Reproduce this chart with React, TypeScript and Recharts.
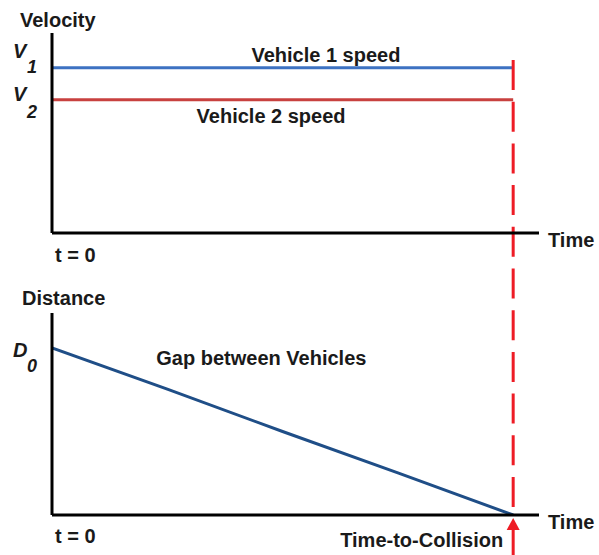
import React from "react";
import { LineChart, Line, XAxis, YAxis, ReferenceLine, ReferenceDot } from "recharts";

const FONT = '"Liberation Sans", Arial, sans-serif';
const INK = "#1a1a1a";
const RED = "#ee1c25";

// time axis (arbitrary units), collision happens at T_COLLIDE
const T_MAX = 10.56;
const T_COLLIDE = 10;
const V_MAX = 30;
const D_MAX = 60;

const speedTimes = [0, 10];
const vehicle1Speed = [24.8, 24.8];
const vehicle2Speed = [20, 20];

const gapTimes = [0, 2.5, 5, 7.5, 10];
const gapDistance = [49.6, 37.4, 24.8, 12.5, 0];

const velocityTicks = [24.8, 20];
const velocitySubs = ["1", "2"];
const distanceTicks = [49.6];
const distanceSubs = ["0"];

const speedData = speedTimes.map((t, i) => ({ t, v1: vehicle1Speed[i], v2: vehicle2Speed[i] }));
const gapData = gapTimes.map((t, i) => ({ t, d: gapDistance[i] }));

const textStyle = { fontFamily: FONT, fontWeight: 700, fontSize: 20, fill: INK };

// letter + subscript tick, e.g. V1
const subTick = (letter: string, ticks: number[], subs: string[], shifts: number[][]) => (p: any) => {
  const i = ticks.indexOf(p.payload.value);
  const [dy, subDy] = shifts[i] || [0, 15];
  return (
    <g>
      <text x={13} y={p.y + dy} {...textStyle} fontStyle="italic">{letter}</text>
      <text x={27} y={p.y + subDy} {...textStyle} fontSize={18} fontStyle="italic">{subs[i]}</text>
    </g>
  );
};

const timeLabel = (props: any) => {
  const vb = props.viewBox;
  return <text x={vb.x + vb.width + 9} y={vb.y + 14} {...textStyle}>Time</text>;
};

const axisTitle = (title: string, x: number, dy: number) => (props: any) => {
  const vb = props.viewBox;
  return <text x={x} y={vb.y + dy} {...textStyle}>{title}</text>;
};

const midLabel = (text: string, dy: number) => (props: any) => {
  const vb = props.viewBox;
  return <text x={vb.x} y={vb.y + dy} textAnchor="middle" {...textStyle}>{text}</text>;
};

const topTimeTick = (p: any) => (
  <text x={p.x + 3} y={p.y + 29} {...textStyle}>t = 0</text>
);

const bottomTimeTick = (p: any) => {
  if (p.payload.value === 0) {
    return <text x={p.x + 3} y={p.y + 28} {...textStyle}>t = 0</text>;
  }
  const x = p.x;
  const y = p.y;
  return (
    <g>
      <text x={x - 10} y={y + 32} textAnchor="end" {...textStyle}>Time-to-Collision</text>
      <path d={`M${x},${y + 3} L${x - 6.5},${y + 15} L${x + 6.5},${y + 15} Z`} fill={RED} />
      <line x1={x} x2={x} y1={y + 14} y2={y + 42} stroke={RED} strokeWidth={3} />
    </g>
  );
};

export default function App() {
  return (
    <div style={{ position: "absolute", left: 0, top: 0, width: 599, height: 555, background: "#fff" }}>
      <div style={{ position: "absolute", left: 0, top: 0 }}>
        <LineChart width={599} height={270} data={speedData} margin={{ top: 33, right: 60, bottom: 7, left: 0 }}>
          <XAxis
            dataKey="t"
            type="number"
            domain={[0, T_MAX]}
            allowDataOverflow
            ticks={[0]}
            tickSize={0}
            tickMargin={0}
            height={30}
            axisLine={{ stroke: "#000", strokeWidth: 3 }}
            tick={topTimeTick}
            label={timeLabel}
          />
          <YAxis
            type="number"
            domain={[0, V_MAX]}
            allowDataOverflow
            width={52}
            ticks={velocityTicks}
            tickLine={false}
            axisLine={{ stroke: "#000", strokeWidth: 3 }}
            tick={subTick("V", velocityTicks, velocitySubs, [[-10, 5], [1, 18]])}
            label={axisTitle("Velocity", 20, -6)}
          />
          <Line dataKey="v1" stroke="#3d72c2" strokeWidth={3} dot={false} isAnimationActive={false} />
          <Line dataKey="v2" stroke="#c8413f" strokeWidth={3} dot={false} isAnimationActive={false} />
          <ReferenceDot x={5.94} y={vehicle1Speed[0]} r={0} fill="none" stroke="none" label={midLabel("Vehicle 1 speed", -6)} />
          <ReferenceDot x={4.75} y={vehicle2Speed[0]} r={0} fill="none" stroke="none" label={midLabel("Vehicle 2 speed", 23)} />
          <ReferenceLine
            segment={[{ x: T_COLLIDE, y: 25.95 }, { x: T_COLLIDE, y: -5.55 }]}
            ifOverflow="visible"
            stroke={RED}
            strokeWidth={3}
            strokeDasharray="30 11.7"
          />
        </LineChart>
      </div>
      <div style={{ position: "absolute", left: 0, top: 270 }}>
        <LineChart width={599} height={285} data={gapData} margin={{ top: 43, right: 60, bottom: 10, left: 0 }}>
          <XAxis
            dataKey="t"
            type="number"
            domain={[0, T_MAX]}
            allowDataOverflow
            ticks={[0, T_COLLIDE]}
            tickSize={0}
            tickMargin={0}
            height={30}
            axisLine={{ stroke: "#000", strokeWidth: 3 }}
            tick={bottomTimeTick}
            label={timeLabel}
          />
          <YAxis
            type="number"
            domain={[0, D_MAX]}
            allowDataOverflow
            width={52}
            ticks={distanceTicks}
            tickLine={false}
            axisLine={{ stroke: "#000", strokeWidth: 3 }}
            tick={subTick("D", distanceTicks, distanceSubs, [[9, 24]])}
            label={axisTitle("Distance", 22, -8)}
          />
          <ReferenceLine
            segment={[{ x: T_COLLIDE, y: 72.77 }, { x: T_COLLIDE, y: 0 }]}
            ifOverflow="visible"
            stroke={RED}
            strokeWidth={3}
            strokeDasharray="30 11.7"
            strokeDashoffset={1.5}
          />
          <Line dataKey="d" stroke="#1f4e87" strokeWidth={3} dot={false} isAnimationActive={false} />
          <ReferenceDot x={4.54} y={44.6} r={0} fill="none" stroke="none" label={midLabel("Gap between Vehicles", 0)} />
        </LineChart>
      </div>
    </div>
  );
}
